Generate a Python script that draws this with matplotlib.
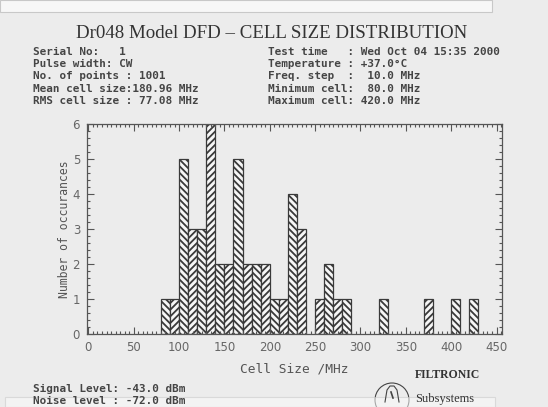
import matplotlib
matplotlib.use("Agg")
import matplotlib.pyplot as plt
from matplotlib.patches import Rectangle, Ellipse
from matplotlib.ticker import MultipleLocator

# ---- data ----
bin_left = [80, 90, 100, 110, 120, 130, 140, 150, 160, 170, 180, 190, 200, 210,
            220, 230, 250, 260, 270, 280, 320, 370, 400, 420]
counts = [1, 1, 5, 3, 3, 6, 2, 2, 5, 2, 2, 2, 1, 1,
          4, 3, 1, 2, 1, 1, 1, 1, 1, 1]
bin_width = 10
x_ticks = [0, 50, 100, 150, 200, 250, 300, 350, 400, 450]
y_ticks = [0, 1, 2, 3, 4, 5, 6]

title = "Dr048 Model DFD \u2013 CELL SIZE DISTRIBUTION"
left_info = ["Serial No:   1",
             "Pulse width: CW",
             "No. of points : 1001",
             "Mean cell size:180.96 MHz",
             "RMS cell size : 77.08 MHz"]
right_info = ["Test time   : Wed Oct 04 15:35 2000",
              "Temperature : +37.0\u00b0C",
              "Freq. step  :  10.0 MHz",
              "Minimum cell:  80.0 MHz",
              "Maximum cell: 420.0 MHz"]
bottom_info = ["Signal Level: -43.0 dBm",
               "Noise level : -72.0 dBm"]

W, H = 548, 407
BG = "#ececec"
plt.rcParams['hatch.linewidth'] = 1.3
plt.rcParams['hatch.color'] = '#262626'

fig = plt.figure(figsize=(W / 100, H / 100), dpi=100, facecolor=BG)

def fx(px):
    return px / W

def fy(py):
    return 1 - py / H

ax = fig.add_axes([fx(87), fy(334), fx(502) - fx(87), fy(124) - fy(334)])
ax.set_facecolor(BG)

for xl, c in zip(bin_left, counts):
    hatch = '\\\\\\\\\\' if (xl // bin_width) % 2 == 0 else '/////'
    ax.bar(xl, c, width=bin_width, align='edge', facecolor='#f6f6f6',
           edgecolor='#3a3a3a', linewidth=0.9, hatch=hatch)

ax.set_xlim(-1.5, 456)
ax.set_ylim(0, 6)
ax.set_xticks(x_ticks)
ax.set_yticks(y_ticks)
ax.xaxis.set_minor_locator(MultipleLocator(5))
ax.yaxis.set_minor_locator(MultipleLocator(0.2))
ax.tick_params(which='both', direction='in', top=True, right=True,
               color='#555555', width=0.8)
ax.tick_params(which='major', length=5, labelsize=8.5, labelcolor='#666666', pad=5)
ax.tick_params(which='minor', length=2.5)
for lab in ax.get_xticklabels() + ax.get_yticklabels():
    lab.set_fontfamily('DejaVu Sans')
for s in ax.spines.values():
    s.set_color('#555555')
    s.set_linewidth(0.9)

ax.set_xlabel("Cell Size /MHz", fontfamily='DejaVu Sans Mono', fontsize=9.3,
              color='#555555', labelpad=6)
ax.set_ylabel("Number of occurances", fontfamily='DejaVu Sans Mono', fontsize=8.3,
              color='#555555', labelpad=1)

# title and header
fig.text(fx(272), fy(33), title, ha='center', va='center',
         fontfamily='Liberation Serif', fontsize=13.6, color='#333333')
for i, t in enumerate(left_info):
    fig.text(fx(33), fy(52 + 12.2 * i), t, ha='left', va='center',
             fontfamily='DejaVu Sans Mono', fontsize=7.9, fontweight='bold',
             color='#454545')
for i, t in enumerate(right_info):
    fig.text(fx(268), fy(52 + 12.2 * i), t, ha='left', va='center',
             fontfamily='DejaVu Sans Mono', fontsize=7.9, fontweight='bold',
             color='#454545')
for i, t in enumerate(bottom_info):
    fig.text(fx(33), fy(389 + 12 * i), t, ha='left', va='center',
             fontfamily='DejaVu Sans Mono', fontsize=7.9, fontweight='bold',
             color='#454545')

# logo
fig.text(fx(415), fy(375), "FILTRONIC", ha='left', va='center',
         fontfamily='Liberation Serif', fontsize=8.5, fontweight='bold',
         color='#333333')
fig.text(fx(415), fy(399), "Subsystems", ha='left', va='center',
         fontfamily='Liberation Serif', fontsize=9, color='#333333')
fig.patches.append(Ellipse((fx(392), fy(400)), 34 / W, 34 / H, fill=False,
                           edgecolor='#444444', linewidth=0.8,
                           transform=fig.transFigure))
fig.lines.append(plt.Line2D([fx(385), fx(387), fx(390), fx(394), fx(397), fx(399)],
                            [fy(402), fy(390), fy(386), fy(386), fy(390), fy(402)],
                            color='#444444', linewidth=0.8, transform=fig.transFigure))
fig.lines.append(plt.Line2D([fx(391), fx(393)], [fy(392), fy(398)],
                            color='#444444', linewidth=1.2, transform=fig.transFigure))

# scan artefacts: white strips at top and bottom
fig.patches.append(Rectangle((0, fy(12)), fx(492), 12 / H, facecolor='#f7f7f7',
                             edgecolor='#c8c8c8', linewidth=0.8,
                             transform=fig.transFigure))
fig.patches.append(Rectangle((fx(5), 0), fx(495) - fx(5), 10 / H, facecolor='#fafafa',
                             alpha=0.55, edgecolor='#c8c8c8', linewidth=0.8,
                             transform=fig.transFigure))

fig.savefig("out.png", dpi=100, facecolor=BG)
